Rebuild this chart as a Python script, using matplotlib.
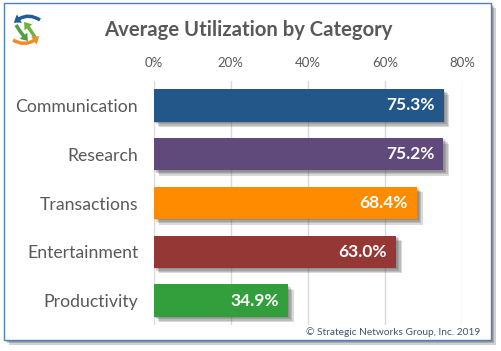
import matplotlib
matplotlib.use("Agg")
import matplotlib.pyplot as plt
import matplotlib.patheffects as pe
from matplotlib.patches import Rectangle, FancyArrowPatch

plt.rcParams['font.family'] = ['Lato', 'DejaVu Sans']

categories = ["Communication", "Research", "Transactions", "Entertainment", "Productivity"]
values = [75.3, 75.2, 68.4, 63.0, 34.9]
bar_colors = ["#23578A", "#604A7B", "#FF8C00", "#953735", "#339E3C"]
xticks = [0, 20, 40, 60, 80]
W, H = 501, 351


# stacked faint shadows, gives a soft edge
def soft_shadow(dist, alpha):
    effects = [pe.SimplePatchShadow(offset=(d, -d), shadow_rgbFace="#444444", alpha=alpha)
               for d in dist]
    return effects + [pe.Normal()]


fig = plt.figure(figsize=(W / 100, H / 100), dpi=100, facecolor="white")

# outer frame, has to stay behind the axes
frame = Rectangle((4 / W, 1 - 340 / H), 487 / W, 337 / H, transform=fig.transFigure,
                  facecolor="white", edgecolor="#4F81BD", linewidth=1.0, zorder=-1,
                  path_effects=soft_shadow([3.5, 2.5, 1.5], 0.25))
fig.add_artist(frame)

ax = fig.add_axes([153.5 / W, 1 - 325 / H, 308.5 / W, 244 / H])
ax.patch.set_alpha(0)
ax.set_xlim(0, 80)
ax.set_ylim(len(categories) - 0.5, -0.5)

bars = ax.barh(range(len(categories)), values, height=0.66, color=bar_colors, zorder=3, clip_on=False)
for b in bars:
    b.set_path_effects(soft_shadow([4, 3, 2, 1], 0.2))

ax.xaxis.tick_top()
ax.set_xticks(xticks)
ax.set_xticklabels([f"{t}%" for t in xticks], fontsize=9.5, color="#595959")
ax.tick_params(axis="x", length=0, pad=8.5)
ax.set_yticks(range(len(categories)))
ax.set_yticklabels(categories, fontsize=12.7, color="#595959")
ax.tick_params(axis="y", length=0, pad=11)
ax.grid(axis="x", color="#D9D9D9", linewidth=1.0, zorder=0)
for s in ax.spines.values():
    s.set_visible(False)

for i, v in enumerate(values):
    ax.text(v - 2.4, i, f"{v:.1f}%", ha="right", va="center", fontsize=12.5, fontweight="bold",
            color="white", zorder=4)

fig.text(248.5 / W, 1 - 30 / H, "Average Utilization by Category", ha="center", va="center",
         fontsize=14.6, fontweight="bold", color="#595959")
fig.text(480 / W, 1 - 332 / H, "\u00a9 Strategic Networks Group, Inc. 2019", ha="right", va="center",
         fontsize=7.3, color="#44546A")

# small logo, four circling arrows
logo = fig.add_axes([10 / W, 1 - 48 / H, 32 / W, 36 / H])
logo.set_xlim(0, 32)
logo.set_ylim(36, 0)
logo.axis("off")
arrow_specs = [
    ((6, 13), (18, 29), "arc3,rad=0.05", "#4E9F3D"),
    ((26, 27), (14, 10), "arc3,rad=0.05", "#6DB33F"),
    ((30, 8), (4, 11), "arc3,rad=0.4", "#1F5C99"),
    ((3, 28), (29, 24), "arc3,rad=0.4", "#F28C28"),
]
for start, end, conn, col in arrow_specs:
    logo.add_patch(FancyArrowPatch(start, end, connectionstyle=conn, color=col, linewidth=0,
                                   shrinkA=0, shrinkB=0,
                                   arrowstyle="simple,head_width=7,head_length=5,tail_width=2.5"))

fig.savefig("out.png", dpi=100)
